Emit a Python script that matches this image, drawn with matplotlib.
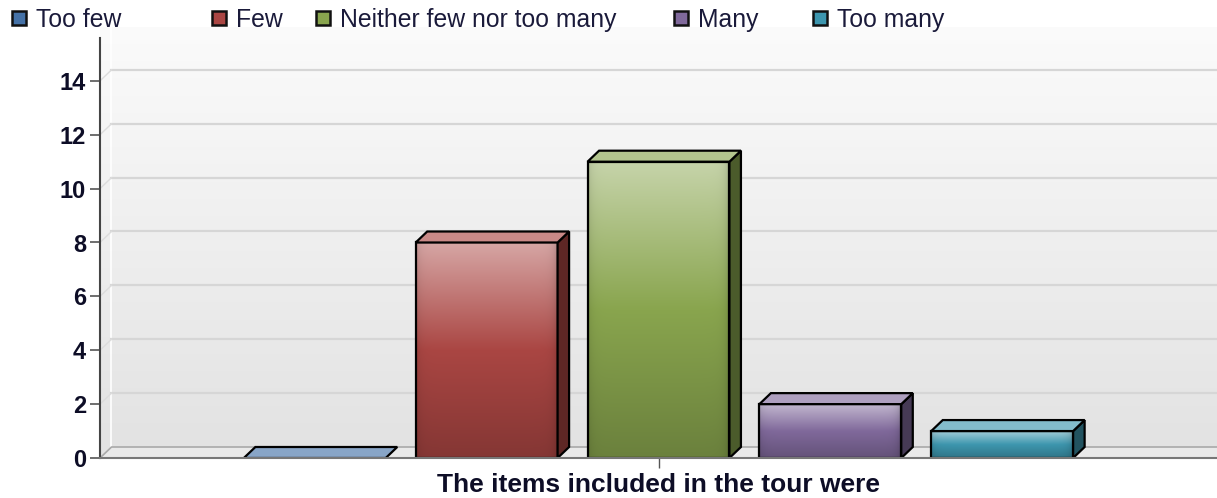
import numpy as np
import matplotlib
matplotlib.use("Agg")
import matplotlib.pyplot as plt
from matplotlib.patches import Polygon, Rectangle
from matplotlib.colors import to_rgb

# survey answers for one question
category = "The items included in the tour were"
series = ["Too few", "Few", "Neither few nor too many", "Many", "Too many"]
counts = [0, 8, 11, 2, 1]
colors = ["#4572A7", "#AA4643", "#89A54E", "#80699B", "#3D96AE"]
yticks = [0, 2, 4, 6, 8, 10, 12, 14]

W, H, DPI = 1217, 498, 100
fig = plt.figure(figsize=(W / DPI, H / DPI), dpi=DPI)
fig.patch.set_facecolor("white")

ax = fig.add_axes([100 / W, 40 / H, 1117 / W, 431 / H])
x = np.arange(len(series))
xc = x.mean()
x0, x1 = xc - 3.25, xc + 3.25
ytop = 16.0
ax.set_xlim(x0, x1)
ax.set_ylim(0, ytop)
ax.set_autoscale_on(False)

# depth offset of the 3d look, in data units
inv = ax.transData.inverted()
p = ax.transData.transform((0, 0))
dx, dy = inv.transform(p + np.array([11.5, 11.0])) - inv.transform(p)

# back wall
g = np.linspace(0, 1, 256)[:, None]
wall = (np.array(to_rgb("#fbfbfb")) * (1 - g) + np.array(to_rgb("#e2e2e2")) * g)[:, None, :]
ax.imshow(wall, extent=(x0, x1, 0, ytop), origin="upper", aspect="auto", zorder=0)
ax.plot([x0 + dx, x0 + dx], [dy, ytop], color="white", lw=1.2, zorder=1)

# floor
ax.add_patch(Polygon([(x0, 0), (x0 + dx, dy), (x1, dy), (x1, 0)],
                     facecolor="#e9e9e9", edgecolor="none", zorder=1))
ax.plot([x0, x0 + dx, x1], [0, dy, dy], color="#a9a9a9", lw=1.2, zorder=1)

# grid lines on the back wall
for v in yticks[1:]:
    ax.plot([x0 + dx, x1], [v + dy, v + dy], color="#d6d6d6", lw=1.6, zorder=1)
    ax.plot([x0, x0 + dx], [v, v + dy], color="#dcdcdc", lw=1.0, zorder=1)


def front_image(color, n=200, m=80):
    base = np.array(to_rgb(color))
    top = base + (1 - base) * 0.52
    bot = base * 0.78
    t = np.linspace(0, 1, n)[:, None]
    col = np.where(t < 0.5, top + (base - top) * (t / 0.5),
                   base + (bot - base) * ((t - 0.5) / 0.5))
    u = np.linspace(0, 1, m)
    edge = 1 - 0.10 * np.exp(-u / 0.03) - 0.16 * np.exp(-(1 - u) / 0.03)
    return np.clip(col[:, None, :] * edge[None, :, None], 0, 1)


bw = 142 / 172
for xi, v, c in zip(x, counts, colors):
    base = np.array(to_rgb(c))
    left, right = xi - bw / 2, xi + bw / 2
    lighter = base + (1 - base) * 0.36
    darker = base * 0.55
    if v > 0:
        ax.imshow(front_image(c), extent=(left, right, 0, v), origin="upper",
                  aspect="auto", interpolation="bilinear", zorder=3)
        ax.add_patch(Rectangle((left, 0), bw, v, facecolor="none",
                               edgecolor="black", lw=1.6, zorder=4))
        ax.add_patch(Polygon([(right, 0), (right + dx, dy), (right + dx, v + dy), (right, v)],
                             facecolor=darker, edgecolor="black", lw=1.6, zorder=4))
    ax.add_patch(Polygon([(left, v), (left + dx, v + dy), (right + dx, v + dy), (right, v)],
                         facecolor=lighter, edgecolor="black", lw=1.6, zorder=4))

# axes
for s in ["top", "right"]:
    ax.spines[s].set_visible(False)
ax.spines["left"].set_color("#444444")
ax.spines["left"].set_linewidth(1.5)
ax.spines["left"].set_bounds(0, 15.6)
ax.spines["bottom"].set_color("#777777")
ax.spines["bottom"].set_linewidth(1.5)
ax.spines["left"].set_zorder(6)
ax.spines["bottom"].set_zorder(6)

ax.set_yticks(yticks)
ax.set_yticklabels([str(t) for t in yticks])
ax.set_xticks([xc])
ax.set_xticklabels([category])
ax.tick_params(axis="y", length=7, width=1.2, color="#555555", pad=3,
               labelsize=17, labelcolor="#0d0d26")
ax.tick_params(axis="x", length=7.5, width=1.0, color="#555555", pad=3,
               labelsize=19, labelcolor="#0d0d26")
for lab in ax.get_yticklabels() + ax.get_xticklabels():
    lab.set_fontfamily("Liberation Sans")
    lab.set_fontweight("bold")

# legend row along the top
leg_x = [12, 212, 316, 674, 813]
for lx, name, c in zip(leg_x, series, colors):
    fig.patches.append(Rectangle((lx / W, 1 - 25 / H), 14 / W, 14 / H, transform=fig.transFigure,
                                 facecolor=c, edgecolor="#111111", lw=1.8))
    fig.text((lx + 24) / W, 1 - 20 / H, name, fontsize=17.8, family="Liberation Sans",
             color="#1a1a3a", va="center", ha="left")

fig.savefig("out.png", dpi=DPI)
